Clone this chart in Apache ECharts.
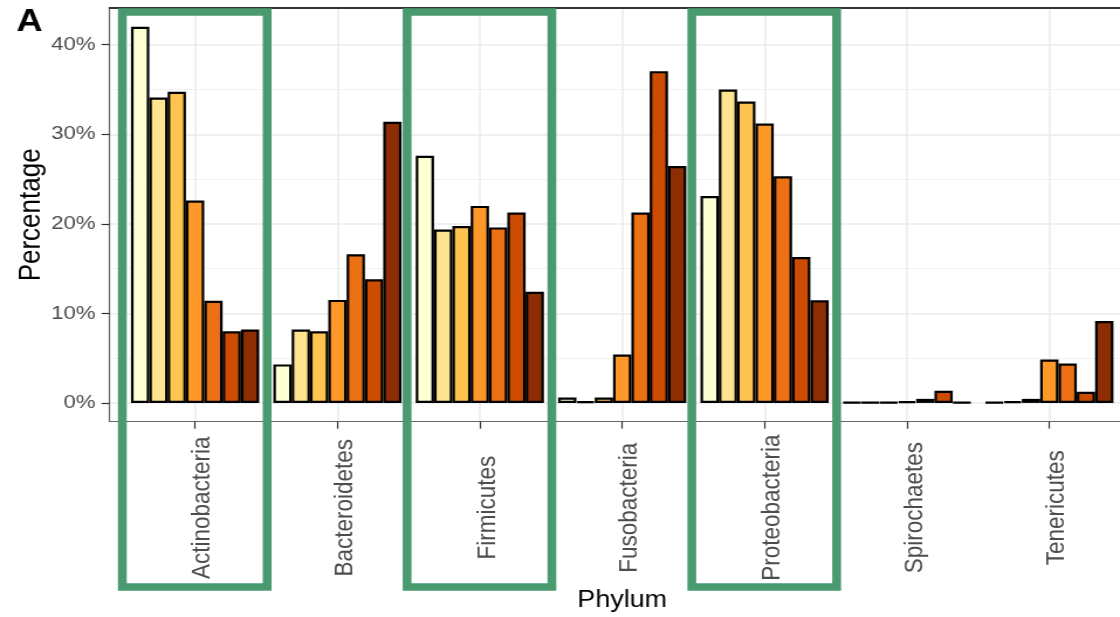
<!DOCTYPE html>
<html>
<head>
<meta charset="utf-8">
<script src="https://cdn.jsdelivr.net/npm/echarts@6/dist/echarts.min.js"></script>
<style>
html,body{margin:0;padding:0;background:#fff;overflow:hidden;}
#c{width:957px;height:617px;transform:scaleX(1.17032);transform-origin:0 0;}
</style>
</head>
<body>
<div id="c"></div>
<script>
// ---- data ----
const phyla = ['Actinobacteria','Bacteroidetes','Firmicutes','Fusobacteria','Proteobacteria','Spirochaetes','Tenericutes'];
const yTicks = [0, 10, 20, 30, 40];
const yMinorTicks = [5, 15, 25, 35];
const groupNames = ['G1','G2','G3','G4','G5','G6','G7'];
const g1 = [42.0, 4.3, 27.6, 0.6, 23.1, 0.05, 0.05];
const g2 = [34.1, 8.2, 19.35, 0.15, 35.0, 0.05, 0.15];
const g3 = [34.75, 8.0, 19.75, 0.6, 33.65, 0.05, 0.45];
const g4 = [22.6, 11.5, 22.0, 5.4, 31.2, 0.15, 4.85];
const g5 = [11.4, 16.6, 19.6, 21.25, 25.3, 0.45, 4.4];
const g6 = [8.0, 13.8, 21.25, 37.05, 16.3, 1.35, 1.25];
const g7 = [8.2, 31.4, 12.4, 26.45, 11.45, 0.05, 9.15];
const highlighted = ['Actinobacteria','Firmicutes','Proteobacteria'];
// ----------------

const groups = [g1,g2,g3,g4,g5,g6,g7];
const colors = ['#ffffd4','#fee391','#fec44f','#fe9929','#ec7014','#cc4c02','#8c2d04'];
const FONT = '"Liberation Sans", Arial, sans-serif';
const catPos = phyla.map((p,i)=>i+1);

const chart = echarts.init(document.getElementById('c'), null, {renderer:'canvas'});

const series = groups.map((vals, gi) => ({
  name: groupNames[gi],
  type: 'bar',
  xAxisIndex: 0,
  yAxisIndex: 0,
  barWidth: 15.65,
  barGap: '0%',
  data: vals.map((v, i) => [catPos[i], v]),
  itemStyle: {color: colors[gi], borderColor: '#000', borderWidth: 2.2},
  emphasis: {disabled: true},
  z: 3
}));

chart.setOption({
  animation: false,
  backgroundColor: '#fff',
  textStyle: {fontFamily: FONT},
  title: {
    text: 'A', left: 14, top: 7, padding: 0,
    textStyle: {fontSize: 31, fontWeight: 'bold', color: '#000', fontFamily: FONT}
  },
  grid: {left: 93.7, width: 875.9, top: 8, height: 413.7, containLabel: false, outerBoundsMode: 'none'},
  xAxis: [{
    type: 'value', min: 0.4, max: 7.6,
    axisLine: {show: true, onZero: false, lineStyle: {color: '#666', width: 1.2}},
    axisTick: {show: true, customValues: catPos, length: 7, lineStyle: {color: '#333', width: 1.2}},
    axisLabel: {
      customValues: catPos,
      formatter: v => phyla[Math.round(v) - 1],
      rotate: 90, align: 'center', verticalAlign: 'top', lineHeight: 13,
      margin: 86,
      fontSize: 22.5, color: '#4d4d4d', fontFamily: FONT
    },
    splitLine: {show: true, lineStyle: {color: '#ebebeb', width: 1.5}},
    name: 'Phylum', nameLocation: 'middle', nameGap: 167, nameMoveOverlap: false,
    nameTextStyle: {fontSize: 23, color: '#000', fontFamily: FONT}
  }, {
    type: 'value', min: 0.4, max: 7.6, position: 'top',
    axisLine: {show: true, onZero: false, lineStyle: {color: '#333', width: 2}},
    axisTick: {show: false}, axisLabel: {show: false}, splitLine: {show: false}
  }],
  yAxis: [{
    type: 'value', min: -2.1, max: 44.1,
    axisLine: {show: true, onZero: false, lineStyle: {color: '#666', width: 1.2}},
    axisTick: {show: true, customValues: yTicks, length: 7, lineStyle: {color: '#333', width: 1.2}},
    axisLabel: {customValues: yTicks, formatter: v => v + '%', fontSize: 19, color: '#4d4d4d', margin: 12, fontFamily: FONT},
    splitLine: {show: true, lineStyle: {color: '#ebebeb', width: 1.5}},
    name: 'Percentage', nameLocation: 'middle', nameGap: 54, nameMoveOverlap: false,
    nameTextStyle: {fontSize: 26, color: '#000', fontFamily: FONT}
  }, {
    type: 'value', min: -2.1, max: 44.1, position: 'left',
    axisLine: {show: false}, axisLabel: {show: false, customValues: yMinorTicks},
    axisTick: {show: false, customValues: yMinorTicks},
    splitLine: {show: true, lineStyle: {color: '#f1f1f1', width: 1}}
  }],
  series: series
});

// highlight boxes around selected phyla, positioned through the axes
const yTop = chart.convertToPixel({yAxisIndex: 0}, 43.65);
const yBottom = 587;
const rects = highlighted.map(name => {
  const c = catPos[phyla.indexOf(name)];
  const x0 = chart.convertToPixel({xAxisIndex: 0}, c - 0.511);
  const x1 = chart.convertToPixel({xAxisIndex: 0}, c + 0.506);
  return {
    type: 'rect', z: 100, silent: true,
    shape: {x: x0, y: yTop, width: x1 - x0, height: yBottom - yTop},
    style: {fill: 'none', stroke: '#4a9a70', lineWidth: 7.5}
  };
});
chart.setOption({graphic: rects});
</script>
</body>
</html>
